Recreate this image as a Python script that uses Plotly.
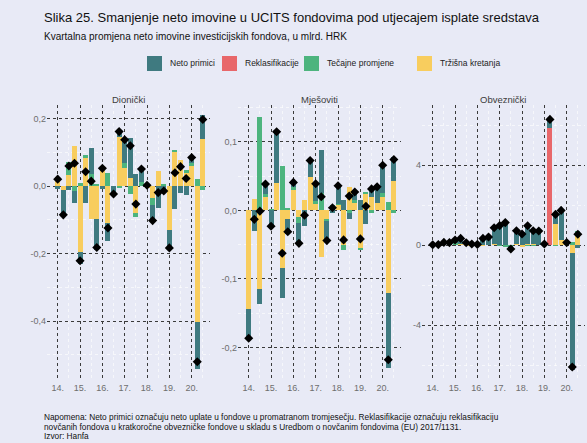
import plotly.graph_objects as go

W, H = 587, 443

# ---------------- data ----------------
quarters = [(y, q) for y in range(2014, 2021) for q in range(1, 5)][:27]  # 2014Q1 .. 2020Q3
tick_years = [2014, 2015, 2016, 2017, 2018, 2019, 2020]
tick_year_labels = ["14.", "15.", "16.", "17.", "18.", "19.", "20."]

series_names = ["Neto primici", "Reklasifikacije", "Tečajne promjene", "Tržišna kretanja"]
series_colors = ["#3F7A80", "#E8676A", "#4DB47E", "#F8CD5E"]

panel_titles = ["Dionički", "Mješoviti", "Obveznički"]

# Dionički
neto_d = [-0.007, -0.073, -0.012, -0.035, -0.036, -0.050, 0.075, -0.090, -0.008, -0.054,
          -0.023, 0.018, 0.070, 0.120, 0.037, 0.037, 0.008, -0.047, -0.065, -0.021,
          -0.054, -0.068, -0.021, -0.025, 0.017, -0.139, 0.070]
rek_d = [0.0] * 27
tec_d = [0.0, 0.0, 0.040, -0.015, 0.010, 0.008, 0.037, 0.006, 0.0, 0.040,
         0.0, -0.003, 0.015, -0.024, -0.012, 0.014, 0.0, -0.020, 0.0, 0.007,
         0.0, 0.006, 0.0, 0.008, 0.008, 0.020, -0.012]
trz_d = [0.028, -0.012, 0.032, 0.118, -0.195, 0.085, -0.097, -0.098, 0.061, -0.110,
         0.0, 0.147, 0.053, 0.024, -0.078, 0.0, -0.005, -0.035, 0.046, 0.0,
         -0.129, 0.102, 0.079, 0.040, 0.060, -0.402, 0.140]

# Mješoviti
neto_m = [-0.043, -0.030, -0.023, 0.0145, -0.025, 0.075, -0.0435, -0.023, 0.006, -0.029,
          -0.022, 0.024, 0.025, 0.063, -0.029, -0.004, 0.026, 0.015, -0.010, 0.012,
          0.015, -0.020, 0.0145, 0.023, 0.041, -0.110, 0.036]
rek_m = [0.0] * 27
tec_m = [0.0, 0.0, 0.136, 0.004, 0.002, 0.0, 0.065, 0.004, 0.005, -0.010,
         0.0, 0.0, 0.004, 0.025, -0.0025, 0.008, 0.002, -0.007, -0.003, 0.004,
         -0.0015, 0.001, -0.003, 0.0, 0.005, 0.012, -0.004]
trz_m = [-0.1435, 0.017, -0.114, 0.020, 0.0, 0.040, -0.084, -0.012, 0.030, -0.009,
         0.015, 0.049, 0.010, -0.068, -0.0125, 0.0, 0.008, -0.051, 0.034, 0.011,
         -0.055, 0.025, 0.020, 0.0115, 0.020, -0.120, 0.0425]

# Obveznički
neto_o = [0.01, 0.02, 0.12, 0.12, 0.17, 0.30, 0.14, 0.05, 0.05, 0.38,
          0.40, 0.81, 1.00, 1.18, -0.15, 0.68, 0.67, 0.95, 0.70, 0.70,
          0.05, 0.42, 0.53, 1.46, 0.05, -5.84, -0.16]
rek_o = [0.0] * 21 + [5.86] + [0.0] * 5
tec_o = [0.0, 0.0, 0.01, 0.0, 0.05, 0.0, 0.0, 0.0, 0.0, 0.0,
         0.0, 0.0, -0.03, -0.06, -0.05, 0.0, 0.0, -0.04, -0.05, 0.0,
         0.0, 0.0, -0.05, 0.0, 0.07, 0.15, 0.15]
trz_o = [0.0, 0.0, 0.0, 0.0, 0.03, 0.03, -0.03, 0.0, -0.02, -0.05,
         0.0, 0.05, 0.0, 0.0, 0.0, 0.03, -0.12, 0.05, 0.06, 0.0,
         0.0, 0.0, 1.05, 0.27, 0.0, -0.41, 0.55]

y_ticks = [[-0.4, -0.2, 0.0, 0.2], [-0.2, -0.1, 0.0, 0.1], [-4, 0, 4]]
y_tick_labels = [["-0,4", "-0,2", "0,0", "0,2"], ["-0,2", "-0,1", "0,0", "0,1"], ["-4", "0", "4"]]
y_minor = [[-0.5, -0.3, -0.1, 0.1], [-0.15, -0.05, 0.05, 0.15], [-6, -2, 2, 6]]
y_ranges = [[-0.578, 0.241], [-0.249, 0.154], [-6.8, 7.0]]

title = "Slika 25. Smanjenje neto imovine u UCITS fondovima pod utjecajem isplate sredstava"
subtitle = "Kvartalna promjena neto imovine investicijskih fondova, u mlrd. HRK"
note_lines = [
    "Napomena: Neto primici označuju neto uplate u fondove u promatranom tromjesečju. Reklasifikacije označuju reklasifikaciju",
    "novčanih fondova u kratkoročne obvezničke fondove u skladu s Uredbom o novčanim fondovima (EU) 2017/1131.",
    "Izvor: Hanfa",
]

panels = [
    (neto_d, rek_d, tec_d, trz_d),
    (neto_m, rek_m, tec_m, trz_m),
    (neto_o, rek_o, tec_o, trz_o),
]

# ---------------- figure ----------------
BG = "#E8EAF6"
FONT = "Liberation Sans, Arial, sans-serif"

def px_x(p):
    return p / W

def px_y(p):
    return 1 - p / H

x_vals = [y + (q - 1) / 4 for (y, q) in quarters]
bar_w = 0.225

panel_px = [(47, 210), (238, 401), (422, 585)]
y_dom = [px_y(381), px_y(105)]

fig = go.Figure()

for pi, comps in enumerate(panels):
    ax = "" if pi == 0 else str(pi + 1)
    # stacking order: nearest zero first (Tržišna, Tečajne, Reklas., Neto)
    for si in [3, 2, 1, 0]:
        fig.add_trace(go.Bar(
            x=x_vals, y=comps[si], width=bar_w,
            marker=dict(color=series_colors[si], line=dict(width=0)),
            name=series_names[si], showlegend=False,
            xaxis="x" + ax, yaxis="y" + ax,
        ))
    total = [sum(v) for v in zip(*comps)]
    fig.add_trace(go.Scatter(
        x=x_vals, y=total, mode="markers",
        marker=dict(symbol="diamond", size=7, color="black"),
        showlegend=False, xaxis="x" + ax, yaxis="y" + ax,
    ))

    xa = dict(
        domain=[px_x(panel_px[pi][0]), px_x(panel_px[pi][1])],
        range=[2013.52, 2020.82],
        tickvals=tick_years, ticktext=tick_year_labels,
        showgrid=True, gridcolor="#3a3a3a", gridwidth=1, griddash="dot",
        minor=dict(tickvals=[y + 0.5 for y in tick_years], showgrid=True,
                   gridcolor="rgba(255,255,255,0.6)", gridwidth=0.6),
        zeroline=False, showline=False, ticks="",
        tickfont=dict(family=FONT, size=9, color="#6e6e6e"),
        automargin=False, anchor="y" + ax, fixedrange=True,
    )
    ya = dict(
        domain=y_dom, range=y_ranges[pi],
        tickvals=y_ticks[pi], ticktext=y_tick_labels[pi],
        showgrid=True, gridcolor="#3a3a3a", gridwidth=1, griddash="dot",
        minor=dict(tickvals=y_minor[pi], showgrid=True,
                   gridcolor="rgba(255,255,255,0.6)", gridwidth=0.6),
        zeroline=False, showline=False, ticks="",
        tickfont=dict(family=FONT, size=9, color="#6e6e6e"),
        automargin=False, anchor="x" + ax, fixedrange=True,
    )
    fig.layout["xaxis" + ax] = xa
    fig.layout["yaxis" + ax] = ya

annotations = []
# panel titles
for pi, t in enumerate(panel_titles):
    cx = (panel_px[pi][0] + panel_px[pi][1]) / 2
    annotations.append(dict(text=t, x=px_x(cx), y=px_y(100), xref="paper", yref="paper",
                            xanchor="center", yanchor="middle", showarrow=False,
                            font=dict(family=FONT, size=9.5, color="#3c3c3c")))
# title & subtitle
annotations.append(dict(text=title, x=px_x(42), y=px_y(18), xref="paper", yref="paper",
                        xanchor="left", yanchor="middle", showarrow=False,
                        font=dict(family=FONT, size=13, color="#111111")))
annotations.append(dict(text=subtitle, x=px_x(42), y=px_y(37), xref="paper", yref="paper",
                        xanchor="left", yanchor="middle", showarrow=False,
                        font=dict(family=FONT, size=10, color="#111111")))
# note
for li, line in enumerate(note_lines):
    annotations.append(dict(text=line, x=px_x(42), y=px_y(417 + li * 9.6), xref="paper", yref="paper",
                            xanchor="left", yanchor="middle", showarrow=False,
                            font=dict(family=FONT, size=8.3, color="#111111")))

# manual legend
shapes = []
leg_sq_x = [147, 222, 304, 417]
for si, name in enumerate(series_names):
    x0 = leg_sq_x[si]
    shapes.append(dict(type="rect", xref="paper", yref="paper",
                       x0=px_x(x0), x1=px_x(x0 + 15), y0=px_y(71), y1=px_y(56),
                       fillcolor=series_colors[si], line=dict(width=0)))
    annotations.append(dict(text=name, x=px_x(x0 + 21), y=px_y(63.5), xref="paper", yref="paper",
                            xanchor="left", yanchor="middle", showarrow=False,
                            font=dict(family=FONT, size=8.5, color="#222222")))

fig.update_layout(
    width=W, height=H,
    margin=dict(l=0, r=0, t=0, b=0),
    paper_bgcolor=BG, plot_bgcolor=BG,
    barmode="relative", bargap=0,
    showlegend=False,
    annotations=annotations, shapes=shapes,
    font=dict(family=FONT),
)

fig.write_html("out.html", config={"displayModeBar": False},
               post_script="document.body.style.margin='0';document.body.style.overflow='hidden';")
